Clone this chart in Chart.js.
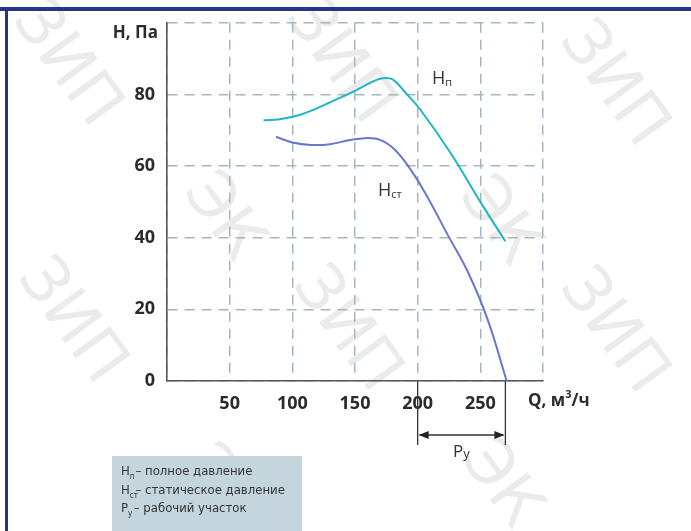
<!DOCTYPE html>
<html>
<head>
<meta charset="utf-8">
<script src="https://cdn.jsdelivr.net/npm/chart.js@4.4.1/dist/chart.umd.min.js"></script>
<style>
  html, body { margin: 0; padding: 0; background: #fff; }
  #wrap { width: 691px; height: 531px; position: relative; }
</style>
</head>
<body>
<div id="wrap"><canvas id="fan" width="691" height="531"></canvas></div>
<script>
// ─── DATA ────────────────────────────────────────────────
const qFull   = [77, 90, 105, 120, 135, 150, 163, 172, 180, 190, 202, 226, 250, 270];
const hFull   = [72.8, 73.1, 74.2, 76.2, 78.6, 81.0, 83.4, 84.5, 84.2, 80.6, 75.8, 63.8, 50, 39];
const qStatic = [87, 100, 115, 130, 145, 158, 170, 182, 194, 206, 224, 240, 256, 271];
const hStatic = [68.2, 66.6, 65.9, 66.1, 67.2, 67.8, 67.3, 64.5, 59.2, 52.5, 40.8, 30.5, 17.0, 0];
const xTicks  = [50, 100, 150, 200, 250];
const yTicks  = [0, 20, 40, 60, 80];
const workRange = [200, 270];

const GRID = '#a3b7c2';
const AXIS = '#555';
const TEXT = '#2b2b2b';

function toPoints(xs, ys) { return xs.map((x, i) => ({ x, y: ys[i] })); }

// ─── ЗИП / ЭК watermark + frame ──────────────────────────
const backdrop = {
  id: 'backdrop',
  beforeDraw(chart) {
    const ctx = chart.ctx;
    ctx.save();
    ctx.fillStyle = '#fff';
    ctx.fillRect(0, 0, chart.width, chart.height);
    ctx.fillStyle = '#ebebeb';
    ctx.font = '64px "DejaVu Sans"';
    ctx.textAlign = 'center';
    ctx.textBaseline = 'middle';
    const marks = [
      ['ЗИП', 65, 65], ['ЗИП', 338, 62], ['ЗИП', 612, 85],
      ['ЗИП', 70, 322], ['ЗИП', 345, 330], ['ЗИП', 612, 332],
      ['ЭК', 222, 218], ['ЭК', 498, 222], ['ЭК', 222, 490], ['ЭК', 500, 485]
    ];
    marks.forEach(([t, x, y]) => {
      ctx.save();
      ctx.translate(x, y);
      ctx.rotate(Math.PI * 0.3);
      ctx.fillText(t, 0, 0);
      ctx.restore();
    });
    // frame
    ctx.fillStyle = '#26358c';
    ctx.fillRect(0, 7, chart.width, 4);
    ctx.fillRect(5, 7, 3, chart.height - 7);
    ctx.restore();
  }
};

// ─── labels, dimension line, legend box ──────────────────
function subText(ctx, main, sub, x, y, size, subSize, drop) {
  ctx.font = size;
  ctx.fillText(main, x, y);
  const w = ctx.measureText(main).width;
  ctx.font = subSize;
  ctx.fillText(sub, x + w, y + drop);
  return w + ctx.measureText(sub).width;
}

const extras = {
  id: 'extras',
  afterDraw(chart) {
    const ctx = chart.ctx;
    const xs = chart.scales.x, ys = chart.scales.y;
    ctx.save();
    ctx.fillStyle = TEXT;
    ctx.textBaseline = 'middle';

    // axis titles
    ctx.font = 'bold 17px "Open Sans"';
    ctx.textAlign = 'right';
    ctx.fillText('H, Па', 158, 33);
    ctx.textAlign = 'left';
    ctx.fillText('Q, м', 528, 401);
    let w = ctx.measureText('Q, м').width;
    ctx.font = 'bold 11px "Open Sans"';
    ctx.fillText('3', 528 + w, 395);
    let w2 = ctx.measureText('3').width;
    ctx.font = 'bold 17px "Open Sans"';
    ctx.fillText('/ч', 528 + w + w2, 401);

    // curve labels
    ctx.fillStyle = '#333';
    subText(ctx, 'H', 'п', 432, 79, '18px "Open Sans"', '11px "Open Sans"', 4);
    subText(ctx, 'H', 'ст', 378, 191, '18px "Open Sans"', '11px "Open Sans"', 4);

    // working range Pу
    const x1 = xs.getPixelForValue(workRange[0]);
    const x2 = xs.getPixelForValue(workRange[1]);
    const y0 = ys.getPixelForValue(0);
    ctx.strokeStyle = '#333';
    ctx.lineWidth = 1.3;
    ctx.beginPath();
    ctx.moveTo(x1, y0); ctx.lineTo(x1, y0 + 64);
    ctx.moveTo(x2, y0); ctx.lineTo(x2, y0 + 64);
    const ay = y0 + 54;
    ctx.moveTo(x1 + 2, ay); ctx.lineTo(x2 - 2, ay);
    ctx.stroke();
    ctx.fillStyle = '#222';
    ctx.beginPath();
    ctx.moveTo(x1 + 1, ay); ctx.lineTo(x1 + 11, ay - 4); ctx.lineTo(x1 + 11, ay + 4); ctx.closePath();
    ctx.moveTo(x2 - 1, ay); ctx.lineTo(x2 - 11, ay - 4); ctx.lineTo(x2 - 11, ay + 4); ctx.closePath();
    ctx.fill();
    ctx.fillStyle = '#333';
    subText(ctx, 'P', 'у', 453, ay + 17, '17px "Open Sans"', '13px "Open Sans"', 2);

    // legend box
    ctx.fillStyle = '#c5d5de';
    ctx.fillRect(112, 456, 190, 75);
    ctx.fillStyle = '#333';
    const lf = '13px "Liberation Sans Narrow", "DejaVu Sans Condensed"';
    const sf = '8px "Liberation Sans Narrow", "DejaVu Sans Condensed"';
    const rows = [['H', 'п', ' – полное давление', 472], ['H', 'ст', ' – статическое давление', 491], ['P', 'у', ' – рабочий участок', 509]];
    rows.forEach(([m, s, rest, y]) => {
      ctx.font = lf;
      ctx.fillText(m, 121, y);
      const mw = ctx.measureText(m).width;
      ctx.font = sf;
      ctx.fillText(s, 121 + mw, y + 5);
      ctx.font = lf;
      ctx.fillText(rest, 121 + mw + 2, y);
    });
    ctx.restore();
  }
};

// ─── CHART ───────────────────────────────────────────────
const canvas = document.getElementById('fan');
new Chart(canvas, {
  type: 'scatter',
  data: {
    datasets: [
      {
        label: 'Hп',
        data: toPoints(qFull, hFull),
        showLine: true,
        borderColor: '#1cb7c7',
        borderWidth: 2,
        pointRadius: 0,
        tension: 0.4
      },
      {
        label: 'Hст',
        data: toPoints(qStatic, hStatic),
        showLine: true,
        borderColor: '#6679cd',
        borderWidth: 2,
        pointRadius: 0,
        tension: 0.4
      }
    ]
  },
  options: {
    responsive: false,
    animation: false,
    devicePixelRatio: 1,
    layout: { padding: { left: 0, top: 19, right: 148, bottom: 0 } },
    plugins: { legend: { display: false }, tooltip: { enabled: false } },
    scales: {
      x: {
        type: 'linear', min: 0, max: 300,
        afterFit(s) { s.height = 150; },
        afterBuildTicks(s) { s.ticks = [0, ...xTicks, 300].map(v => ({ value: v })); },
        ticks: {
          padding: 12,
          color: TEXT,
          font: { family: 'Open Sans', size: 18, weight: 'bold' },
          callback: v => xTicks.includes(v) ? String(v) : ''
        },
        grid: { color: GRID, lineWidth: 1.5, drawTicks: false },
        border: { display: true, color: AXIS, width: 1.6, dash: [10, 7] }
      },
      y: {
        type: 'linear', min: 0, max: 100,
        afterFit(s) { s.width = 167; },
        afterBuildTicks(s) { s.ticks = [...yTicks, 100].map(v => ({ value: v })); },
        ticks: {
          padding: 12,
          color: TEXT,
          font: { family: 'Open Sans', size: 18, weight: 'bold' },
          callback: v => yTicks.includes(v) ? String(v) : ''
        },
        grid: { color: GRID, lineWidth: 1.5, drawTicks: false },
        border: { display: true, color: AXIS, width: 1.6, dash: [10, 7] }
      }
    }
  },
  plugins: [backdrop, extras]
});
</script>
</body>
</html>
